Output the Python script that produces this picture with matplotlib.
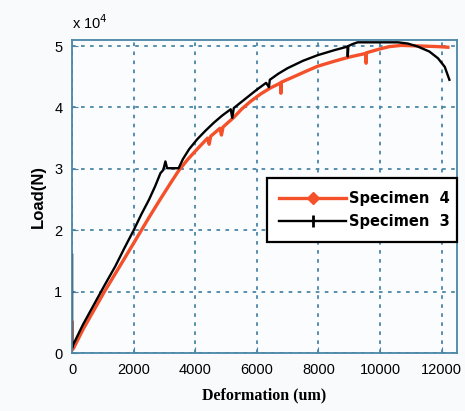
import numpy as np
import matplotlib.pyplot as plt
from matplotlib.ticker import FuncFormatter
from matplotlib.lines import Line2D

# Specimen 3 (black) - deformation (um), load (N)
x3 = [0, 0, 30, 350, 700, 1050, 1400, 1700, 2000, 2250, 2500, 2700, 2870, 2960, 3030,
      3085, 3460, 3600, 3800, 4060, 4330, 4600, 4880, 5150, 5200, 5250, 5500, 5700, 6000,
      6300, 6390, 6420, 6700, 7000, 7500, 7970, 8500, 8940, 8950, 8970, 9100, 9270, 10000,
      10580, 10900, 11230, 11600, 11880, 12100, 12250]
y3 = [16000, 800, 1300, 4600, 7800, 11000, 14100, 17100, 20000, 22600, 25000, 27200,
      29300, 29800, 31200, 30100, 30100, 31600, 33200, 34800, 36200, 37500, 38700, 39700,
      38300, 39900, 40900, 41700, 42900, 44000, 43300, 44500, 45500, 46400, 47600, 48500,
      49300, 49900, 48300, 50000, 50300, 50600, 50600, 50600, 50400, 49900, 49100, 48000,
      46600, 44500]

# Specimen 4 (red)
x4 = [0, 0, 50, 350, 700, 1050, 1400, 1700, 2000, 2250, 2500, 2870, 3200, 3460, 3750,
      4060, 4400, 4450, 4500, 4800, 4850, 4900, 5255, 5500, 5800, 6125, 6450, 6776, 6780,
      6790, 7200, 7600, 7970, 8500, 9000, 9540, 9545, 9560, 9978, 10300, 10684, 11300,
      11880, 12200]
y4 = [5000, 500, 800, 3800, 6900, 10000, 12900, 15400, 17900, 20000, 22100, 25100,
      27700, 29700, 31500, 33200, 35000, 34000, 35300, 36600, 35500, 36800, 38400, 39700,
      41000, 42200, 43200, 44000, 42300, 44100, 45000, 45900, 46700, 47500, 48200, 48800,
      47200, 48900, 49500, 49900, 50100, 50000, 49900, 49800]

xticks = [0, 2000, 4000, 6000, 8000, 10000, 12000]
yticks = [0, 10000, 20000, 30000, 40000, 50000]

edge = '#4a86a6'
red = '#f4502a'

fig = plt.figure(figsize=(4.65, 4.11), dpi=100, facecolor='#f8fafc')
ax = fig.add_axes([0.155, 0.141, 0.828, 0.762])
ax.set_facecolor('#fbfcfe')

ax.plot(x4, y4, color=red, lw=2.4)
ax.plot(x3, y3, color='black', lw=1.7)

ax.set_xlim(0, 12500)
ax.set_ylim(0, 51000)
ax.set_xticks(xticks)
ax.set_yticks(yticks)
ax.yaxis.set_major_formatter(FuncFormatter(lambda v, p: '%d' % round(v / 1e4)))
ax.tick_params(direction='in', length=4, color=edge, labelsize=10.5, pad=7)
for lab in ax.get_xticklabels() + ax.get_yticklabels():
    lab.set_family('Liberation Sans')
for s in ax.spines.values():
    s.set_color(edge)
    s.set_linewidth(1.3)
ax.grid(True, linestyle=(0, (2, 3)), color=edge, lw=1.3)
ax.set_axisbelow(True)

ax.text(0.0, 1.025, r'x 10$^4$', transform=ax.transAxes, fontsize=10.5,
        family='Liberation Sans', ha='left', va='bottom')
ax.set_xlabel('Deformation (um)', family='Liberation Serif', weight='bold', fontsize=11.5, labelpad=8)
ax.set_ylabel('Load(N)', family='Liberation Sans', weight='bold', fontsize=12, labelpad=6)

handles = [Line2D([], [], color=red, lw=2.4, marker='D', markersize=6),
           Line2D([], [], color='black', lw=1.7, marker='|', markersize=8, markeredgewidth=2)]
leg = ax.legend(handles, ['Specimen  4', 'Specimen  3'], loc='lower left',
                bbox_to_anchor=(0.506, 0.355, 0.494, 0.225), mode='expand',
                fancybox=False, edgecolor='black', framealpha=1, fontsize=11,
                handlelength=4.6, borderpad=0.85, labelspacing=0.6,
                handletextpad=0.15, borderaxespad=0,
                prop={'family': ['Liberation Sans Narrow', 'DejaVu Sans'],
                      'weight': 'bold', 'size': 10.5})
leg.get_frame().set_linewidth(1.6)

fig.savefig('out.png', dpi=100, facecolor=fig.get_facecolor())
